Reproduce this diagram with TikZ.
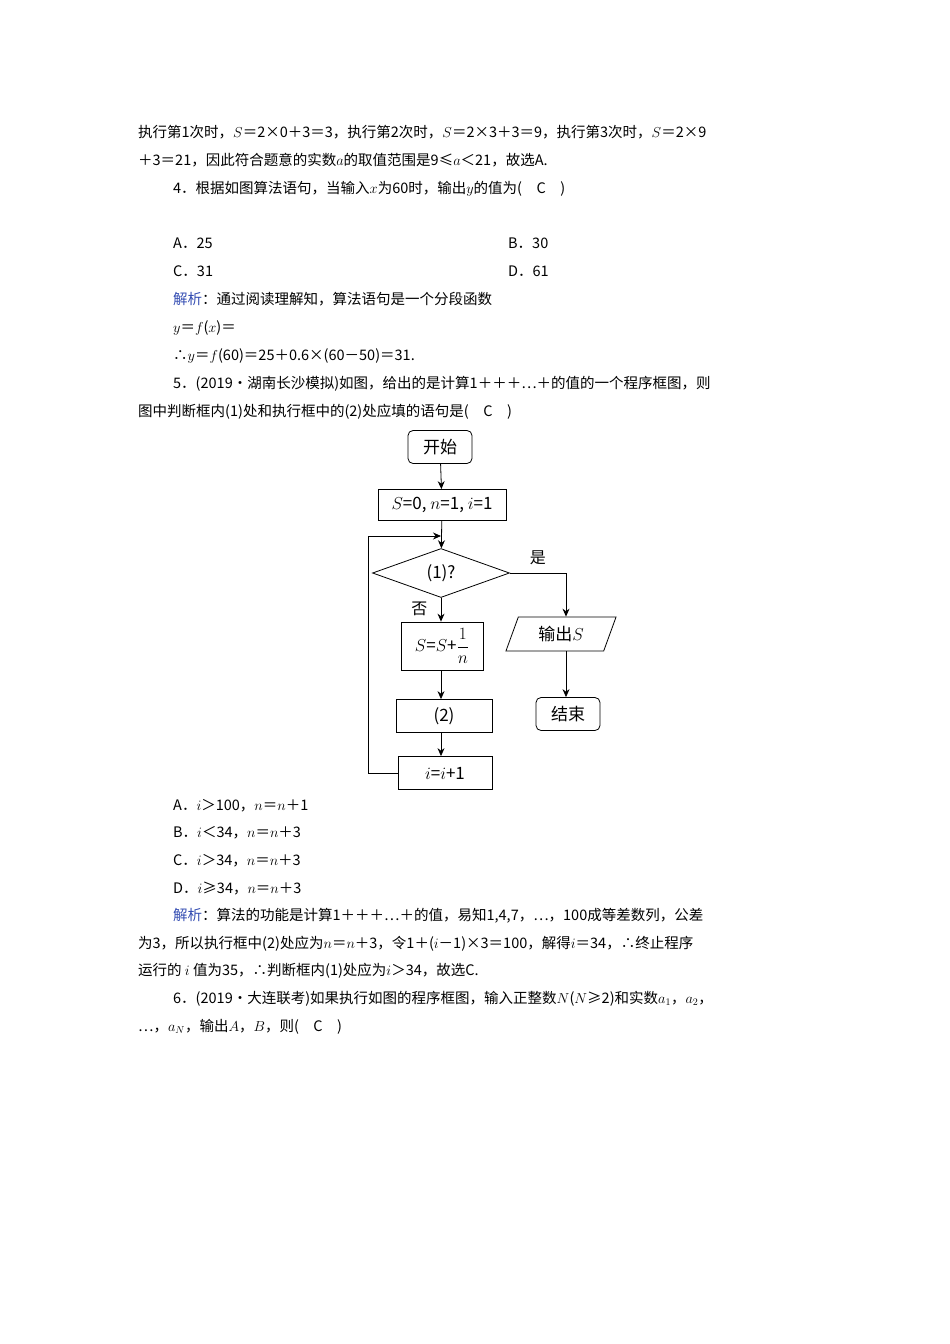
\documentclass[tikz,border=0pt]{standalone}
\usepackage{fontspec}
\setmainfont{Noto Sans CJK SC}
\usetikzlibrary{shapes.geometric,arrows.meta}
\begin{document}
\begin{tikzpicture}[x=1pt,y=-1pt,
  txt/.style={anchor=base west,inner sep=0,font=\fontsize{14.5}{16}\selectfont},
  fbox/.style={draw,thick,minimum width=#1,inner sep=0,font=\fontsize{17}{19}\selectfont},
  arr/.style={-{Stealth[length=8pt,width=7pt]},thick}]
\useasboundingbox (0,0) rectangle (950,1344);
\node[txt] (t1) at (138,137) {执行第1次时，$S$＝2×0＋3＝3，执行第2次时，$S$＝2×3＋3＝9，执行第3次时，$S$＝2×9};
\node[txt] (t2) at (138,165) {＋3＝21，因此符合题意的实数$a$的取值范围是9≤$a$＜21，故选A.};
\node[txt] (t3) at (173,193) {4．根据如图算法语句，当输入$x$为60时，输出$y$的值为(\quad C\quad )};
\node[txt] (t4) at (173,248) {A．25};
\node[txt] (t5) at (508,248) {B．30};
\node[txt] (t6) at (173,276) {C．31};
\node[txt] (t7) at (508,276) {D．61};
\node[txt] (t8) at (173,304) {\textcolor[rgb]{0.2,0.3,0.7}{解析}：通过阅读理解知，算法语句是一个分段函数};
\node[txt] (t9) at (173,332) {$y$＝$f$($x$)＝};
\node[txt] (t10) at (173,360) {∴$y$＝$f$(60)＝25＋0.6×(60－50)＝31.};
\node[txt] (t11) at (173,388) {5．(2019·湖南长沙模拟)如图，给出的是计算1＋＋＋⋯＋的值的一个程序框图，则};
\node[txt] (t12) at (138,416) {图中判断框内(1)处和执行框中的(2)处应填的语句是(\quad C\quad )};
% flowchart
\node[fbox=64pt,minimum height=33pt,rounded corners=5pt] (start) at (440,447) {开始};
\node[fbox=128pt,minimum height=31pt] (init) at (442,505) {$S$=0, $n$=1, $i$=1};
\node[draw,thick,diamond,aspect=2.8,minimum width=137pt,minimum height=49pt,inner sep=0,font=\fontsize{17}{19}\selectfont] (dec) at (441,573) {(1)?};
\node[fbox=82pt,minimum height=48pt] (add) at (442,646) {$S$=$S$+$\displaystyle\frac{1}{n}$};
\node[fbox=96pt,minimum height=33pt] (two) at (444,716) {(2)};
\node[fbox=94pt,minimum height=33pt] (inc) at (445,773) {$i$=$i$+1};
\node[draw,thick,trapezium,trapezium left angle=70,trapezium right angle=110,minimum width=107pt,minimum height=34pt,inner sep=2pt,font=\fontsize{17}{19}\selectfont] (out) at (561,634) {输出$S$};
\node[fbox=64pt,minimum height=33pt,rounded corners=5pt] (end) at (568,714) {结束};
\coordinate (c1) at (368,773);
\coordinate (c2) at (368,536);
\coordinate (c3) at (441,536);
\coordinate (c4) at (566,573);
\draw[arr] (start) -- (init);
\draw[arr] (init) -- (dec);
\draw[arr] (dec) -- node[pos=0.45,left=10pt,font=\fontsize{16}{18}\selectfont]{否} (add.north-|dec);
\draw[arr] (add.south-|dec) -- (two.north-|dec);
\draw[arr] (two.south-|dec) -- (inc.north-|dec);
\draw[arr] (inc.west) -- (c1) -- (c2) -- (c3);
\draw[arr] (dec.east) -- node[above=4pt,pos=0.5,font=\fontsize{16}{18}\selectfont]{是} (c4) -- (out.north-|c4);
\draw[arr] (out.south-|c4) -- (end.north-|c4);
% bottom text
\node[txt] (u1) at (173,810) {A．$i$＞100，$n$＝$n$＋1};
\node[txt] (u2) at (173,837) {B．$i$＜34，$n$＝$n$＋3};
\node[txt] (u3) at (173,865) {C．$i$＞34，$n$＝$n$＋3};
\node[txt] (u4) at (173,893) {D．$i$≥34，$n$＝$n$＋3};
\node[txt] (u5) at (173,920) {\textcolor[rgb]{0.2,0.3,0.7}{解析}：算法的功能是计算1＋＋＋⋯＋的值，易知1,4,7，⋯，100成等差数列，公差};
\node[txt] (u6) at (138,948) {为3，所以执行框中(2)处应为$n$＝$n$＋3，令1＋($i$－1)×3＝100，解得$i$＝34，∴终止程序};
\node[txt] (u7) at (138,975) {运行的\ $i$\ 值为35，∴判断框内(1)处应为$i$＞34，故选C.};
\node[txt] (u8) at (173,1003) {6．(2019·大连联考)如果执行如图的程序框图，输入正整数$N$($N$≥2)和实数$a_1$，$a_2$，};
\node[txt] (u9) at (138,1031) {⋯，$a_N$，输出$A$，$B$，则(\quad C\quad )};
\end{tikzpicture}
\end{document}
